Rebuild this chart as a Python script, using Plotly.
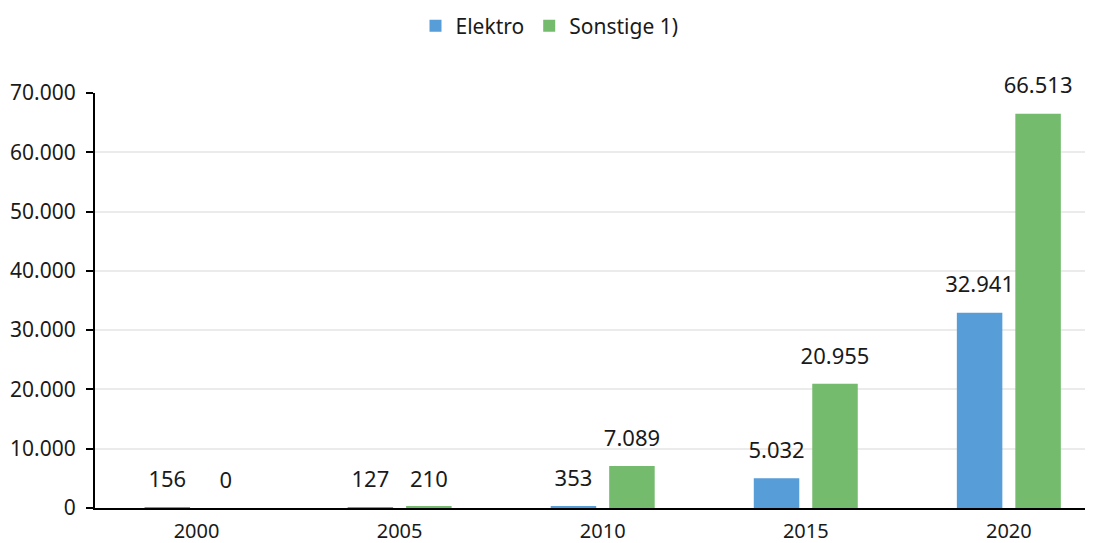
import plotly.graph_objects as go

years = ["2000", "2005", "2010", "2015", "2020"]
elektro = [156, 127, 353, 5032, 32941]
sonstige = [0, 210, 7089, 20955, 66513]
y_ticks = [0, 10000, 20000, 30000, 40000, 50000, 60000, 70000]


def de(v):
    return f"{v:,}".replace(",", ".")


FONT = "Noto Sans"
TXT = "#1a1a1a"
W, H = 1083, 535
series = [("Elektro", elektro, "#579DD7", "a"), ("Sonstige 1)", sonstige, "#74BB6E", "b")]

fig = go.Figure()
for name, vals, col, grp in series:
    fig.add_trace(go.Bar(
        name=name, x=years, y=vals, offsetgroup=grp,
        marker=dict(color=col, line=dict(width=0)),
    ))
for name, vals, col, grp in series:
    fig.add_trace(go.Scatter(
        x=years, y=vals, offsetgroup=grp, mode="markers+text",
        marker=dict(size=22, opacity=0, color=col),
        text=[de(v) for v in vals], textposition="top center", cliponaxis=False,
        textfont=dict(size=22, color=TXT, family=FONT),
        showlegend=False, hoverinfo="skip",
    ))

fig.update_layout(
    width=W, height=H,
    margin=dict(l=87, r=6, t=85, b=35, autoexpand=False),
    paper_bgcolor="white", plot_bgcolor="white",
    barmode="group", bargap=0.424, bargroupgap=0.222,
    scattermode="group", scattergap=0.424,
    font=dict(family=FONT, size=20, color=TXT),
    showlegend=True,
    legend=dict(orientation="h", x=0.5, xanchor="center", xref="container",
                y=1 - 18 / H, yanchor="middle", yref="container",
                font=dict(size=21, family=FONT, color=TXT),
                itemwidth=30, traceorder="normal"),
)
fig.update_xaxes(range=[-0.5, 4.375], showline=True, linecolor="black", linewidth=2,
                 ticks="", ticklabelstandoff=4,
                 automargin=False, tickfont=dict(size=20, family=FONT, color=TXT))
fig.update_yaxes(range=[0, 70000], tickvals=y_ticks,
                 ticktext=[de(v) for v in y_ticks],
                 showline=True, linecolor="black", linewidth=2,
                 ticks="outside", ticklen=7, tickcolor="black", tickwidth=2,
                 ticklabelstandoff=6,
                 showgrid=True, gridcolor="#EBEBEB", gridwidth=2,
                 zeroline=False, automargin=False,
                 tickfont=dict(size=21, family=FONT, color=TXT))

fig.write_html("out.html")
